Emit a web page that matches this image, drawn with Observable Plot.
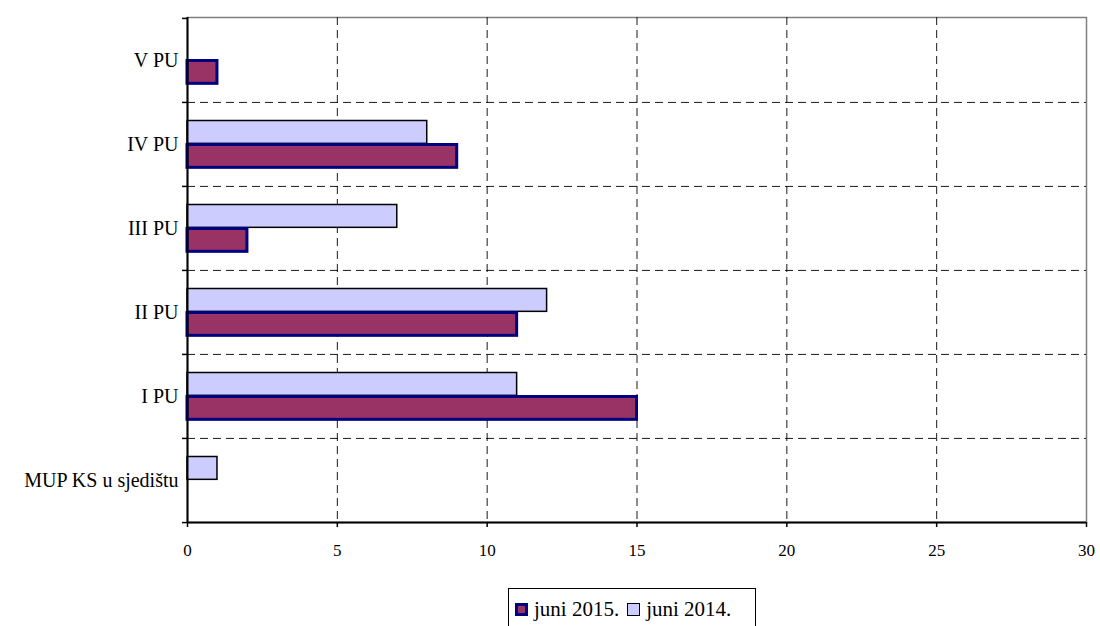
<!DOCTYPE html>
<html>
<head>
<meta charset="utf-8">
<script src="https://cdn.jsdelivr.net/npm/d3@7"></script>
<script src="https://cdn.jsdelivr.net/npm/@observablehq/plot@0.6"></script>
<style>
  html, body { margin: 0; padding: 0; background: #fff; }
  #wrap { position: relative; width: 1100px; height: 626px; overflow: hidden; }
  #legend {
    position: absolute; left: 508px; top: 588px; width: 248px; height: 44px;
    box-sizing: border-box; border: 1.5px solid #000; background: #fff;
    font-family: "Liberation Serif", "Times New Roman", serif; font-size: 21px; color: #000;
    display: flex; align-items: flex-start; padding: 8px 0 0 6px; gap: 0;
  }
  .item { display: flex; align-items: center; margin-right: 8px; white-space: nowrap; }
  .sw { display: inline-block; width: 13px; height: 13px; box-sizing: border-box; margin-right: 6px; }
</style>
</head>
<body>
<div id="wrap"><div id="chart"></div><div id="legend"></div></div>
<script>
const categories = ["V PU", "IV PU", "III PU", "II PU", "I PU", "MUP KS u sjedištu"];
const juni2015 = [1, 9, 2, 11, 15, 0];
const juni2014 = [0, 8, 7, 12, 11, 1];
const xTicks = [0, 5, 10, 15, 20, 25, 30];
const gridTicks = [5, 10, 15, 20, 25];
const seriesNames = ["juni 2015.", "juni 2014."];
const seriesFill = ["#993366", "#CCCCFF"];
const seriesStroke = ["#000080", "#000000"];

const rows2015 = categories.map((c, i) => ({category: c, value: juni2015[i]})).filter(d => d.value > 0);
const rows2014 = categories.map((c, i) => ({category: c, value: juni2014[i]})).filter(d => d.value > 0);

const H = 578, mT = 17, mB = 56;
const bw = (H - mT - mB) / categories.length;
const tickLen = 5 / ((1100 - 187 - 14) / 30);
const lastCat = categories[categories.length - 1];
const serif = "Liberation Serif";

const chart = Plot.plot({
  width: 1100,
  height: H,
  marginLeft: 187,
  marginRight: 14,
  marginTop: mT,
  marginBottom: mB,
  style: {background: "#fff"},
  x: {domain: [0, 30], axis: null},
  y: {type: "band", domain: categories, padding: 0, axis: null},
  marks: [
    Plot.frame({stroke: "#808080", strokeWidth: 1.5}),
    Plot.ruleX(gridTicks, {stroke: "#000", strokeOpacity: 0.9, strokeDasharray: "8,5", strokeWidth: 1}),
    Plot.ruleY(categories.slice(1), {y: d => d, dy: -bw / 2, stroke: "#000", strokeOpacity: 0.9, strokeDasharray: "8,5", strokeWidth: 1}),
    Plot.barX(rows2014, {y: "category", x: "value", fill: seriesFill[1], stroke: seriesStroke[1], strokeWidth: 1.5, insetTop: 18.5, insetBottom: bw - 41.5}),
    Plot.barX(rows2015, {y: "category", x: "value", fill: seriesFill[0], stroke: seriesStroke[0], strokeWidth: 3, insetTop: 42.5, insetBottom: bw - 65.5}),
    Plot.ruleX([0], {stroke: "#000", strokeWidth: 2}),
    Plot.ruleY([lastCat], {y: d => d, dy: bw / 2, x1: 0, x2: 30, stroke: "#000", strokeWidth: 2}),
    Plot.ruleY(categories, {y: d => d, dy: -bw / 2, x1: -tickLen, x2: 0, stroke: "#000", strokeWidth: 1.5}),
    Plot.ruleY([lastCat], {y: d => d, dy: bw / 2, x1: -tickLen, x2: 0, stroke: "#000", strokeWidth: 1.5}),
    Plot.tickX(xTicks, {x: d => d, y: () => lastCat, insetTop: bw, insetBottom: -5, stroke: "#000", strokeWidth: 1.5}),
    Plot.text(categories, {x: () => 0, y: d => d, dx: -9, textAnchor: "end", fontFamily: serif, fontSize: 20, fill: "#000"}),
    Plot.text(xTicks, {x: d => d, y: () => lastCat, dy: bw / 2 + 28, fontFamily: serif, fontSize: 17, fill: "#000"})
  ]
});
document.getElementById("chart").appendChild(chart);

const legend = document.getElementById("legend");
seriesNames.forEach((name, i) => {
  const item = document.createElement("span");
  item.className = "item";
  const sw = document.createElement("span");
  sw.className = "sw";
  sw.style.background = seriesFill[i];
  sw.style.border = (i === 0 ? "3px" : "1.5px") + " solid " + seriesStroke[i];
  item.appendChild(sw);
  item.appendChild(document.createTextNode(name));
  legend.appendChild(item);
});
</script>
</body>
</html>
